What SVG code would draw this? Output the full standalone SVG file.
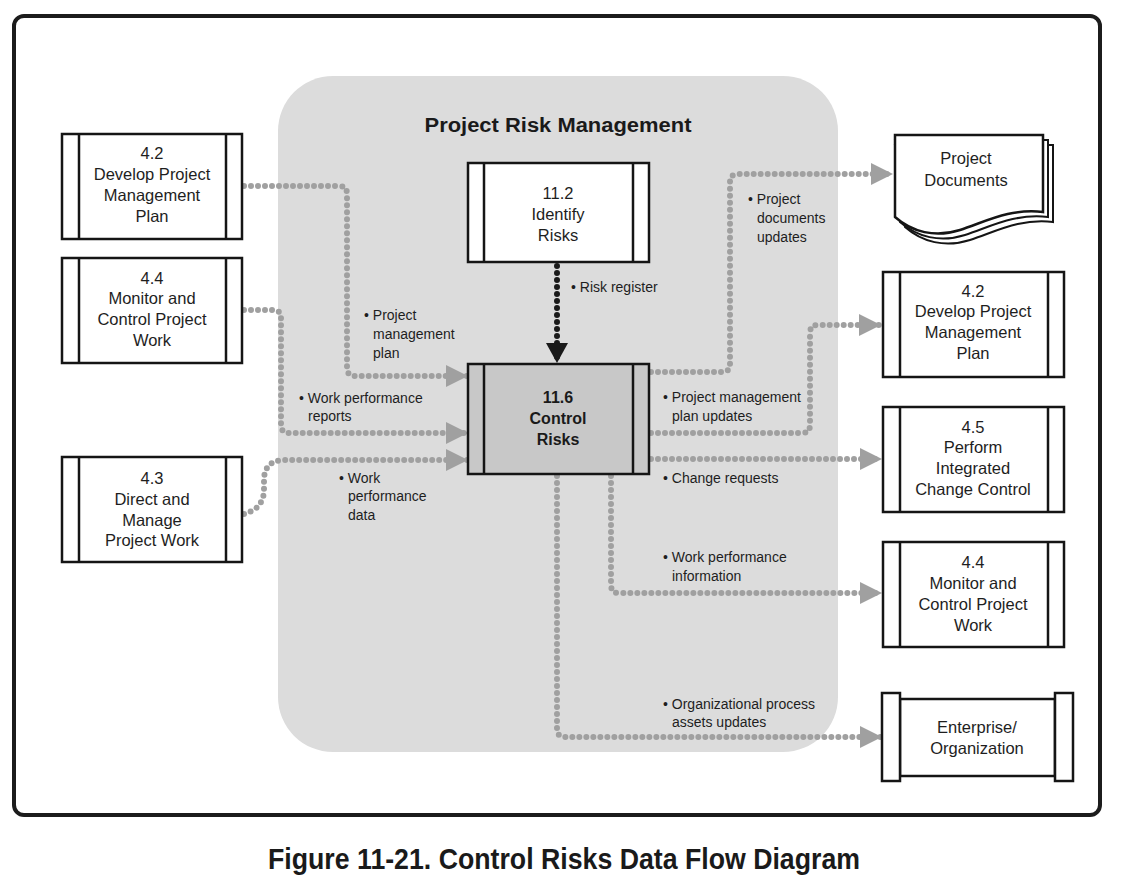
<svg xmlns="http://www.w3.org/2000/svg" width="1123" height="887" viewBox="0 0 1123 887">
<style>
.frame{fill:#fff;stroke:#1c1c1c;stroke-width:4}
.box{fill:#fff;stroke:#151515;stroke-width:2.5}
.bar{stroke:#151515;stroke-width:2.5}
.nt{font-family:"Liberation Sans",Arial,sans-serif;font-size:16.5px;fill:#1e1e1e;text-anchor:middle}
.nb{font-family:"Liberation Sans",Arial,sans-serif;font-size:16px;font-weight:bold;fill:#1a1a1a;text-anchor:middle}
.lb{font-family:"Liberation Sans",Arial,sans-serif;font-size:14px;fill:#1e1e1e}
.dot{fill:none;stroke:#a0a0a0;stroke-width:6;stroke-dasharray:0 7;stroke-linecap:round;marker-end:url(#ga)}
.dotk{fill:none;stroke:#1a1a1a;stroke-width:6;stroke-dasharray:0 7;stroke-linecap:round;marker-end:url(#ka)}
</style>
<defs>
<marker id="ga" markerUnits="userSpaceOnUse" markerWidth="22" markerHeight="22" viewBox="0 0 20 20" refX="20" refY="10" orient="auto">
<path d="M0,0 L20,10 L0,20 Z" fill="#a0a0a0"/>
</marker>
<marker id="ka" markerUnits="userSpaceOnUse" markerWidth="22" markerHeight="22" viewBox="0 0 20 22" refX="20" refY="11" orient="auto">
<path d="M0,0 L20,11 L0,22 Z" fill="#1a1a1a"/>
</marker>
</defs>
<rect width="1123" height="887" fill="#fff"/>
<rect class="frame" x="14" y="16" width="1086" height="799" rx="10"/>
<g id="panel">
<rect x="278" y="76" width="560" height="676" rx="55" fill="#dcdcdc"/>
<text x="558" y="132" font-family="Liberation Sans,Arial,sans-serif" font-size="20" font-weight="bold" fill="#1a1a1a" text-anchor="middle" textLength="267" lengthAdjust="spacingAndGlyphs">Project Risk Management</text>
</g>
<g id="connectors">
<path class="dot" d="M244,186 H339 Q347,186 347,194 V368 Q347,376 355,376 H468"/>
<path class="dot" d="M244,310 H273 Q281,310 281,318 V425 Q281,433 289,433 H468"/>
<path class="dot" d="M244,514 C258,510 263,502 264,492 V478 C265,466 272,460 285,460 H468"/>
<path class="dotk" d="M557,266 V363"/>
<path class="dot" d="M651,372 H722 Q730,372 730,364 V182 Q730,174 738,174 H893"/>
<path class="dot" d="M651,433 H802 Q810,433 810,425 V333 Q810,325 818,325 H881"/>
<path class="dot" d="M651,459 H882"/>
<path class="dot" d="M611,476 V585 Q611,593 619,593 H882"/>
<path class="dot" d="M557,476 V729 Q557,737 565,737 H882"/>
<text class="lb"><tspan x="364" y="320">• Project</tspan><tspan x="373" y="339">management</tspan><tspan x="373" y="358">plan</tspan></text>
<text class="lb"><tspan x="571" y="292">• Risk register</tspan></text>
<text class="lb"><tspan x="748" y="204">• Project</tspan><tspan x="757" y="223">documents</tspan><tspan x="757" y="242">updates</tspan></text>
<text class="lb"><tspan x="299" y="403">• Work performance</tspan><tspan x="308" y="421">reports</tspan></text>
<text class="lb"><tspan x="339" y="483">• Work</tspan><tspan x="348" y="501">performance</tspan><tspan x="348" y="520">data</tspan></text>
<text class="lb"><tspan x="663" y="402">• Project management</tspan><tspan x="672" y="421">plan updates</tspan></text>
<text class="lb"><tspan x="663" y="483">• Change requests</tspan></text>
<text class="lb"><tspan x="663" y="562">• Work performance</tspan><tspan x="672" y="581">information</tspan></text>
<text class="lb"><tspan x="663" y="709">• Organizational process</tspan><tspan x="672" y="727">assets updates</tspan></text>
</g>
<g id="n42l">
<rect class="box" x="62" y="134" width="180" height="105"/>
<line class="bar" x1="79" y1="134" x2="79" y2="239"/><line class="bar" x1="226" y1="134" x2="226" y2="239"/>
<text class="nt"><tspan x="152" y="159">4.2</tspan><tspan x="152" y="180">Develop Project</tspan><tspan x="152" y="201">Management</tspan><tspan x="152" y="222">Plan</tspan></text>
</g>
<g id="n44l">
<rect class="box" x="62" y="258" width="180" height="105"/>
<line class="bar" x1="79" y1="258" x2="79" y2="363"/><line class="bar" x1="226" y1="258" x2="226" y2="363"/>
<text class="nt"><tspan x="152" y="284">4.4</tspan><tspan x="152" y="304">Monitor and</tspan><tspan x="152" y="325">Control Project</tspan><tspan x="152" y="346">Work</tspan></text>
</g>
<g id="n43">
<rect class="box" x="62" y="457" width="180" height="105"/>
<line class="bar" x1="79" y1="457" x2="79" y2="562"/><line class="bar" x1="226" y1="457" x2="226" y2="562"/>
<text class="nt"><tspan x="152" y="484">4.3</tspan><tspan x="152" y="505">Direct and</tspan><tspan x="152" y="526">Manage</tspan><tspan x="152" y="546">Project Work</tspan></text>
</g>
<g id="n112">
<rect class="box" x="468" y="163" width="181" height="99"/>
<line class="bar" x1="484" y1="163" x2="484" y2="262"/><line class="bar" x1="633" y1="163" x2="633" y2="262"/>
<text class="nt"><tspan x="558" y="199">11.2</tspan><tspan x="558" y="220">Identify</tspan><tspan x="558" y="241">Risks</tspan></text>
</g>
<g id="n116">
<rect class="box" x="468" y="364" width="181" height="110" style="fill:#c8c8c8"/>
<line class="bar" x1="484" y1="364" x2="484" y2="474"/><line class="bar" x1="633" y1="364" x2="633" y2="474"/>
<text class="nb"><tspan x="558" y="403">11.6</tspan><tspan x="558" y="424">Control</tspan><tspan x="558" y="445">Risks</tspan></text>
</g>
<g id="docs">
<path d="M895,145 L1053,145 L1053,222 C1020,218 995,232 970,240 C945,248 922,242 905,227 Z" fill="#fff" stroke="#151515" stroke-width="2"/>
<path d="M895,140 L1048,140 L1048,217 C1015,213 990,227 965,235 C940,243 917,237 900,222 Z" fill="#fff" stroke="#151515" stroke-width="2"/>
<path d="M895,135 L1043,135 L1043,212 C1010,208 985,222 960,230 C935,238 912,232 895,217 Z" fill="#fff" stroke="#151515" stroke-width="2.5"/>
<text class="nt"><tspan x="966" y="164">Project</tspan><tspan x="966" y="186">Documents</tspan></text>
</g>
<g id="n42r">
<rect class="box" x="883" y="272" width="181" height="105"/>
<line class="bar" x1="900" y1="272" x2="900" y2="377"/><line class="bar" x1="1048" y1="272" x2="1048" y2="377"/>
<text class="nt"><tspan x="973" y="297">4.2</tspan><tspan x="973" y="317">Develop Project</tspan><tspan x="973" y="338">Management</tspan><tspan x="973" y="359">Plan</tspan></text>
</g>
<g id="n45">
<rect class="box" x="883" y="407" width="181" height="105"/>
<line class="bar" x1="900" y1="407" x2="900" y2="512"/><line class="bar" x1="1048" y1="407" x2="1048" y2="512"/>
<text class="nt"><tspan x="973" y="433">4.5</tspan><tspan x="973" y="453">Perform</tspan><tspan x="973" y="474">Integrated</tspan><tspan x="973" y="495">Change Control</tspan></text>
</g>
<g id="n44r">
<rect class="box" x="883" y="542" width="181" height="105"/>
<line class="bar" x1="900" y1="542" x2="900" y2="647"/><line class="bar" x1="1048" y1="542" x2="1048" y2="647"/>
<text class="nt"><tspan x="973" y="568">4.4</tspan><tspan x="973" y="589">Monitor and</tspan><tspan x="973" y="610">Control Project</tspan><tspan x="973" y="631">Work</tspan></text>
</g>
<g id="enterprise">
<rect class="box" x="900" y="699" width="155" height="77"/>
<rect class="box" x="882" y="693" width="18" height="88"/>
<rect class="box" x="1055" y="693" width="18" height="88"/>
<text class="nt"><tspan x="977" y="733">Enterprise/</tspan><tspan x="977" y="754">Organization</tspan></text>
</g>
<text x="564" y="869" font-family="Liberation Sans,Arial,sans-serif" font-size="30" font-weight="bold" fill="#1a1a1a" text-anchor="middle" textLength="592" lengthAdjust="spacingAndGlyphs">Figure 11-21. Control Risks Data Flow Diagram</text>
</svg>
